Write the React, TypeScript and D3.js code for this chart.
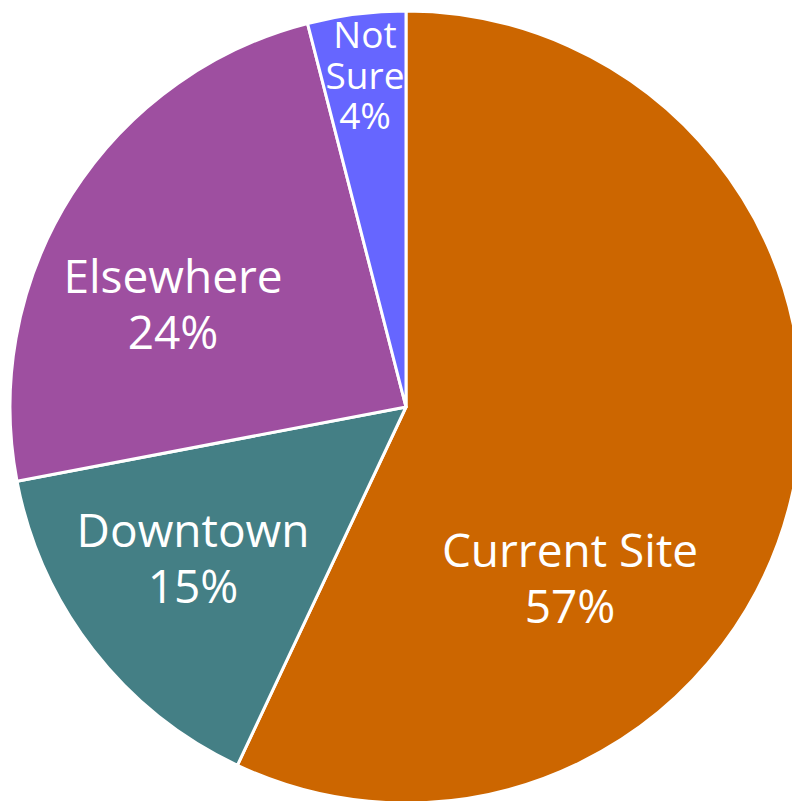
import React from "react";
import * as d3 from "d3";

const categories = ["Current Site", "Downtown", "Elsewhere", "Not Sure"];
const values = [57, 15, 24, 4];
const colors = ["#CC6600", "#447F85", "#9E4FA0", "#6666FF"];
// label line breaks
const labelLines = [["Current Site", "57%"], ["Downtown", "15%"], ["Elsewhere", "24%"], ["Not", "Sure", "4%"]];

const W = 792, H = 801;
const cx = 406, cy = 407, R = 396;
// label anchor (first baseline) offsets from centre (layout)
const labelPos = [[164, 160], [-213, 140], [-233, -114], [-41, -359]];
const fontSizes = [46, 46, 46, 37];
const lineHeights = [56, 56, 56, 40.5];

export default function App() {
  const pie = d3.pie<number>().sort(null).value((d) => d);
  const arcs = pie(values);
  const arc = d3.arc<d3.PieArcDatum<number>>().innerRadius(0).outerRadius(R);
  return (
    <svg width={W} height={H} style={{ position: "absolute", left: 0, top: 0 }}>
      <g transform={`translate(${cx},${cy})`}>
        {arcs.map((a, i) => (
          <path key={categories[i]} d={arc(a) || ""} fill={colors[i]} stroke="#fff" strokeWidth={3} strokeLinejoin="round" />
        ))}
        {arcs.map((a, i) => {
          const lines = labelLines[i];
          const lh = lineHeights[i];
          const [lx, ly] = labelPos[i];
          return (
            <text key={"l" + i} x={lx} textAnchor="middle" fill="#fff" fontFamily="'Open Sans', sans-serif" fontSize={fontSizes[i]}>
              {lines.map((t, j) => (
                <tspan key={j} x={lx} y={ly + j * lh}>{t}</tspan>
              ))}
            </text>
          );
        })}
      </g>
    </svg>
  );
}
